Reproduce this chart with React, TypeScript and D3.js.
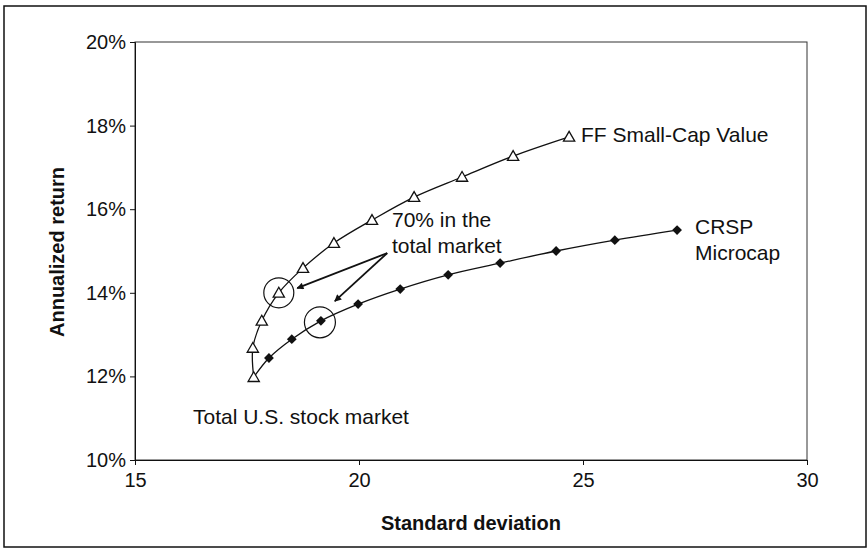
import React, { useEffect, useRef } from "react";
import * as d3 from "d3";

// values
const ffStdDev = [17.65, 17.63, 17.83, 18.21, 18.75, 19.44, 20.29, 21.23, 22.3, 23.44, 24.69];
const ffReturn = [11.98, 12.68, 13.33, 14.0, 14.59, 15.19, 15.74, 16.29, 16.77, 17.27, 17.73];
const microStdDev = [17.65, 17.99, 18.5, 19.15, 19.98, 20.92, 21.99, 23.15, 24.4, 25.71, 27.1];
const microReturn = [11.98, 12.44, 12.89, 13.33, 13.73, 14.09, 14.43, 14.71, 15.0, 15.26, 15.5];

const xTicks = [15, 20, 25, 30];
const yTicks = [10, 12, 14, 16, 18, 20];

// index of the "70% in the total market" point on each curve
const highlightFF = 3;
const highlightMicro = 3;

const W = 868;
const H = 553;
const margin = { left: 135, right: 61, top: 42, bottom: 93 };
const FONT = "'Liberation Sans', Arial, Helvetica, sans-serif";

function App() {
  const svgRef: any = useRef();

  const x = d3.scaleLinear().domain([15, 30]).range([margin.left, W - margin.right]);
  const y = d3.scaleLinear().domain([10, 20]).range([H - margin.bottom, margin.top]);

  const ff = ffStdDev.map((d, i) => [d, ffReturn[i]] as [number, number]);
  const micro = microStdDev.map((d, i) => [d, microReturn[i]] as [number, number]);

  const line = d3
    .line<[number, number]>()
    .x(d => x(d[0]))
    .y(d => y(d[1]))
    .curve(d3.curveCatmullRom.alpha(0.5));

  useEffect(() => {
    const svg = d3.select(svgRef.current);

    const xAxis: any = d3.axisBottom(x).tickValues(xTicks).tickSizeOuter(0).tickSize(5).tickPadding(8);
    const gx = svg.select(".x-axis")
      .attr("transform", `translate(0, ${y(10)})`)
      .call(xAxis);
    gx.selectAll("text").attr("font-size", 20).attr("font-family", FONT).attr("fill", "#111");

    const yAxis: any = d3
      .axisLeft(y)
      .tickValues(yTicks)
      .tickSizeOuter(0)
      .tickSize(5)
      .tickPadding(4)
      .tickFormat((d: any) => `${d}%`);
    const gy = svg.select(".y-axis")
      .attr("transform", `translate(${x(15)}, 0)`)
      .call(yAxis);
    gy.selectAll("text").attr("font-size", 20).attr("font-family", FONT).attr("fill", "#111");
    svg.selectAll(".domain").attr("stroke", "#111");
    svg.selectAll(".tick line").attr("stroke", "#111");
  }, []);

  const tri = d3.symbol().type(d3.symbolTriangle).size(55)();
  const dia = d3.symbol().type(d3.symbolSquare).size(48)();

  // annotation anchor in data units
  const arrowStart: [number, number] = [20.63, 14.95];
  const arrowTip1: [number, number] = [18.62, 14.11];
  const arrowTip2: [number, number] = [19.46, 13.8];

  return (
    <svg
      ref={svgRef}
      width={W}
      height={H}
      style={{ position: "absolute", left: 0, top: 0, background: "#fff" }}
      fontFamily={FONT}
    >
      <defs>
        <marker id="arrow" viewBox="0 0 10 10" refX="9" refY="5" markerWidth="9" markerHeight="7" orient="auto" markerUnits="userSpaceOnUse">
          <path d="M0,0 L10,5 L0,10 z" fill="#111" />
        </marker>
      </defs>
      <rect x={4} y={6} width={862} height={541} fill="none" stroke="#111" strokeWidth={1.5} />
      <rect
        x={x(15)}
        y={y(20)}
        width={x(30) - x(15)}
        height={y(10) - y(20)}
        fill="none"
        stroke="#333"
        strokeWidth={1}
      />
      <g className="x-axis" />
      <g className="y-axis" />

      <path d={line(ff) || ""} fill="none" stroke="#111" strokeWidth={1.3} />
      <path d={line(micro) || ""} fill="none" stroke="#111" strokeWidth={1.3} />

      {ff.map((d, i) => (
        <path
          key={"f" + i}
          d={tri || ""}
          transform={`translate(${x(d[0])}, ${y(d[1]) + 1})`}
          fill="#fff"
          stroke="#111"
          strokeWidth={1.3}
        />
      ))}
      {micro.slice(1).map((d, i) => (
        <path key={"m" + i} d={dia || ""} transform={`translate(${x(d[0])}, ${y(d[1])}) rotate(45)`} fill="#111" />
      ))}

      <circle cx={x(ff[highlightFF][0])} cy={y(ff[highlightFF][1])} r={15} fill="none" stroke="#111" strokeWidth={1.2} />
      <circle
        cx={x(micro[highlightMicro][0]) - 1}
        cy={y(micro[highlightMicro][1]) + 1.5}
        r={15.5}
        fill="none"
        stroke="#111"
        strokeWidth={1.2}
      />
      <line
        x1={x(arrowStart[0])}
        y1={y(arrowStart[1])}
        x2={x(arrowTip1[0])}
        y2={y(arrowTip1[1])}
        stroke="#111"
        strokeWidth={1.8}
        markerEnd="url(#arrow)"
      />
      <line
        x1={x(arrowStart[0])}
        y1={y(arrowStart[1])}
        x2={x(arrowTip2[0])}
        y2={y(arrowTip2[1])}
        stroke="#111"
        strokeWidth={1.8}
        markerEnd="url(#arrow)"
      />

      <g fontSize={21} fill="#111">
        <text x={392} y={227}>70% in the</text>
        <text x={392} y={253}>total market</text>
        <text x={581} y={142}>FF Small-Cap Value</text>
        <text x={695} y={234}>CRSP</text>
        <text x={695} y={260}>Microcap</text>
        <text x={193} y={424}>Total U.S. stock market</text>
      </g>

      <text x={471} y={530} textAnchor="middle" fontSize={20} fontWeight="bold" fill="#111">
        Standard deviation
      </text>
      <text
        transform={`translate(64, 252) rotate(-90)`}
        textAnchor="middle"
        fontSize={20}
        fontWeight="bold"
        fill="#111"
      >
        Annualized return
      </text>
    </svg>
  );
}

export default App;
